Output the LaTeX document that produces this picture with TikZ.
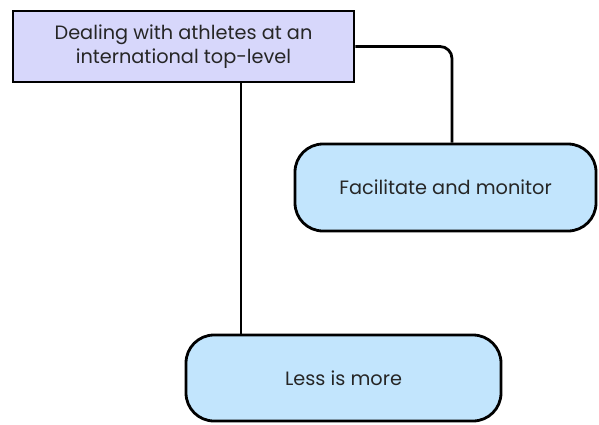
\documentclass[tikz,border=0pt]{standalone}
\usepackage{fontspec}
\setmainfont{Poppins}
\definecolor{lavender}{HTML}{D7D7FB}
\definecolor{skyfill}{HTML}{C2E5FD}
\definecolor{inkgray}{HTML}{262626}
\tikzset{
  x=1pt, y=-1pt,
  topbox/.style={draw=black, line width=2.8pt, fill=lavender, text=inkgray,
    align=center, inner sep=0pt, font=\fontsize{19.3}{23.5}\selectfont},
  pillbox/.style={draw=black, line width=2.8pt, fill=skyfill, text=inkgray,
    rounded corners=28pt, inner sep=0pt, font=\fontsize{19.3}{23.5}\selectfont},
  link/.style={draw=black, line width=2.8pt}
}
\begin{document}
\begin{tikzpicture}
  \useasboundingbox (0,0) rectangle (599,424);
  \node[topbox, minimum width=341pt, minimum height=71pt] (top) at (183.5,46.5)
    {Dealing with athletes at an\\international top-level};
  \node[pillbox, minimum width=301pt, minimum height=87pt] (fac) at (445.5,187.5)
    {Facilitate and monitor};
  \node[pillbox, minimum width=315pt, minimum height=86pt] (less) at (343.5,378)
    {Less is more};
  \draw[link, rounded corners=12pt] (top.east) -| ([xshift=6.5pt]fac.north);
  \draw[link] ([xshift=57.5pt]top.south) -- ([xshift=57.5pt]top.south |- less.north);
\end{tikzpicture}
\end{document}
